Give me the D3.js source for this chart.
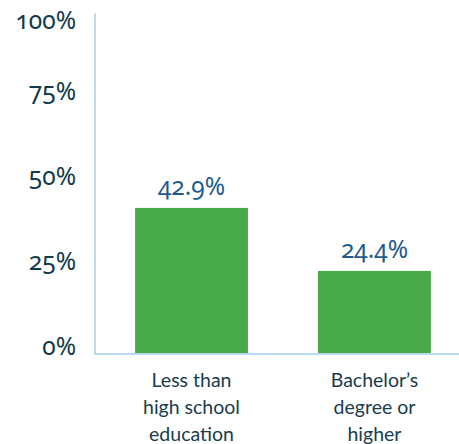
<!DOCTYPE html>
<html><head><meta charset="utf-8">
<script src="https://cdn.jsdelivr.net/npm/d3@7"></script>
<style>
html,body{margin:0;padding:0;background:#fff;}
svg{display:block;}
.num{font-family:"Noto Sans","Open Sans",Lato,sans-serif;font-variant-numeric:oldstyle-nums;font-feature-settings:"onum" 1;}
</style></head>
<body>
<script>
const categories = [["Less than","high school","education"],["Bachelor’s","degree or","higher"]];
const values = [42.9, 24.4];
const valueLabels = ["42.9%", "24.4%"];
const yTicks = [0, 25, 50, 75, 100];
const yTickLabels = ["0%", "25%", "50%", "75%", "100%"];

const W = 459, H = 444;
const svg = d3.select("body").append("svg").attr("width", W).attr("height", H);

const axisX = 95, baseY = 354, topY = 13.5;
const y = d3.scaleLinear().domain([0, 100]).range([baseY, topY]);
const x = d3.scaleBand().domain(d3.range(values.length)).range([axisX, 471])
  .paddingInner(0.383).paddingOuter(0.219);

const axisColor = "#b9d9ef";
svg.append("line").attr("x1", axisX).attr("x2", axisX).attr("y1", topY).attr("y2", baseY)
  .attr("stroke", axisColor).attr("stroke-width", 2);

svg.selectAll(".ytl").data(yTicks).join("text")
  .attr("class", "ytl num")
  .attr("x", 76)
  .attr("y", (d) => Math.max(y(d) + 1, 29))
  .attr("text-anchor", "end")
  .attr("font-size", 24.5)
  .attr("fill", "#0f3a4a")
  .text((d, i) => yTickLabels[i]);

svg.selectAll(".bar").data(values).join("rect")
  .attr("class", "bar")
  .attr("x", (d, i) => x(i))
  .attr("width", x.bandwidth())
  .attr("y", (d) => y(d))
  .attr("height", (d) => y(0) - y(d))
  .attr("fill", "#49aa4a");

svg.append("line").attr("x1", axisX - 1).attr("x2", W).attr("y1", baseY).attr("y2", baseY)
  .attr("stroke", axisColor).attr("stroke-width", 2);

svg.selectAll(".val").data(values).join("text")
  .attr("class", "val num")
  .attr("x", (d, i) => x(i) + x.bandwidth() / 2)
  .attr("y", (d) => y(d) - 13)
  .attr("text-anchor", "middle")
  .attr("font-size", 24.5)
  .attr("fill", "#1e5b8c")
  .text((d, i) => valueLabels[i]);

const cat = svg.selectAll(".cat").data(categories).join("text")
  .attr("class", "cat")
  .attr("text-anchor", "middle")
  .attr("font-family", "Lato, 'Open Sans', sans-serif")
  .attr("font-size", 19.5)
  .attr("fill", "#183d4c");
cat.each(function(lines, i) {
  d3.select(this).selectAll("tspan").data(lines).join("tspan")
    .attr("x", x(i) + x.bandwidth() / 2)
    .attr("y", (d, j) => baseY + 33 + j * 27)
    .text((d) => d);
});
</script>
</body></html>
